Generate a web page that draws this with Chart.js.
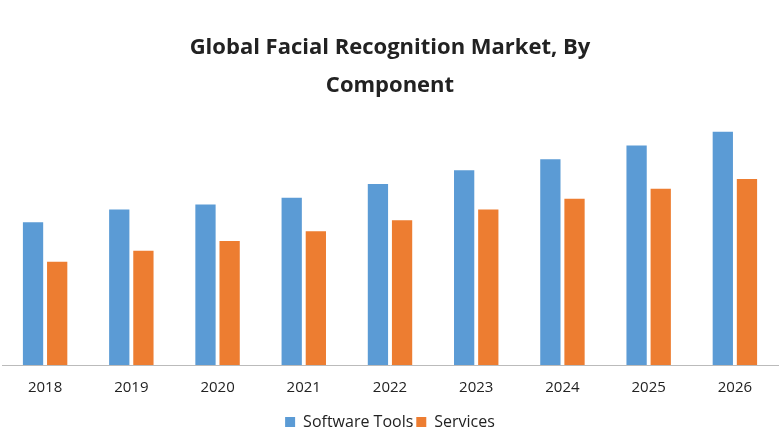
<!DOCTYPE html>
<html><head><meta charset="utf-8">
<script src="https://cdn.jsdelivr.net/npm/chart.js@4/dist/chart.umd.min.js"></script>
<style>html,body{margin:0;background:#fff}#w{width:780px;height:440px}</style>
</head><body><div id="w"><canvas id="c"></canvas></div>
<script>
const categories = ["2018","2019","2020","2021","2022","2023","2024","2025","2026"];
const softwareTools = [145,158,163,170,184,198,209,223,237];
const services = [105,116,126,136,147,158,169,179,189];
const titleLines = ["Global Facial Recognition Market, By","Component"];
new Chart(document.getElementById('c'), {
  type: 'bar',
  data: { labels: categories, datasets: [
    { label: 'Software Tools', data: softwareTools, backgroundColor: '#5b9bd5' },
    { label: 'Services', data: services, backgroundColor: '#ed7d31' }
  ]},
  options: {
    responsive: true, maintainAspectRatio: false, animation: false,
    layout: { padding: { left: 2, right: 2, top: 28, bottom: 0 } },
    categoryPercentage: 0.56, barPercentage: 0.84,
    plugins: {
      title: { display: true, text: titleLines, color: '#222', font: { family: 'Open Sans', size: 22, weight: 'bold', lineHeight: 1.75 }, padding: { top: 0, bottom: 12 } },
      legend: { position: 'bottom', labels: { color: '#222', font: { family: 'Open Sans', size: 16 }, boxWidth: 10, boxHeight: 10, padding: 3 } },
      tooltip: { enabled: false }
    },
    scales: {
      x: { grid: { display: false, drawTicks: false }, border: { color: '#bbb' }, ticks: { color: '#222', font: { family: 'Open Sans', size: 15 }, padding: 14 } },
      y: { display: false, min: 0, max: 252 }
    }
  }
});
</script></body></html>
